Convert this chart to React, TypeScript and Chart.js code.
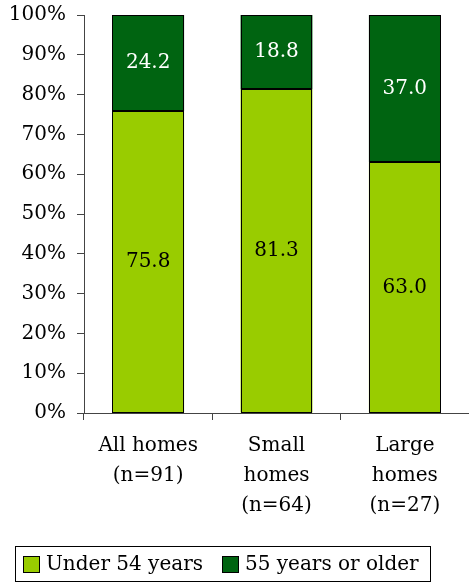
import React, { useEffect, useRef } from "react";
import { Chart, registerables } from "chart.js";

Chart.register(...registerables);

const categories: string[][] = [["All homes", "(n=91)"], ["Small", "homes", "(n=64)"], ["Large", "homes", "(n=27)"]];
const seriesNames = ["Under 54 years", "55 years or older"];
const under54 = [75.8, 81.3, 63.0];
const over55 = [24.2, 18.8, 37.0];
const yTicks = [0, 10, 20, 30, 40, 50, 60, 70, 80, 90, 100];

const LIGHT = "#99CC00";
const DARK = "#006411";
const FONT = "'DejaVu Serif', 'Liberation Serif', serif";

const dataLabels = {
  id: "dataLabels",
  afterDatasetsDraw(chart: any) {
    const ctx = chart.ctx;
    ctx.save();
    // crisp bar borders
    ctx.strokeStyle = "#000";
    ctx.lineWidth = 1;
    chart.data.datasets.forEach((_ds: any, i: number) => {
      const meta = chart.getDatasetMeta(i);
      meta.data.forEach((el: any) => {
        const l = Math.round(el.x - el.width / 2) + 0.5;
        const r = Math.round(el.x + el.width / 2) - 0.5;
        const t = Math.round(Math.min(el.y, el.base)) + 0.5;
        const b = Math.round(Math.max(el.y, el.base)) - 0.5;
        ctx.strokeRect(l, t, r - l, b - t);
      });
    });
    ctx.font = `20px ${FONT}`;
    ctx.textAlign = "center";
    ctx.textBaseline = "middle";
    chart.data.datasets.forEach((ds: any, i: number) => {
      const meta = chart.getDatasetMeta(i);
      meta.data.forEach((el: any, j: number) => {
        const v = ds.data[j];
        const y = (el.y + el.base) / 2;
        ctx.fillStyle = i === 0 ? "#000" : "#fff";
        ctx.fillText(v.toFixed(1), el.x, y);
      });
    });
    ctx.restore();
  },
};

const boxLegend = {
  id: "boxLegend",
  afterDraw(chart: any) {
    const ctx = chart.ctx;
    ctx.save();
    ctx.strokeStyle = "#000";
    ctx.lineWidth = 1;
    ctx.strokeRect(15.5, 546.5, 415, 35);
    ctx.font = `20px ${FONT}`;
    ctx.textBaseline = "middle";
    ctx.textAlign = "left";
    const cy = 565;
    const items = [
      { x: 23, color: LIGHT, text: seriesNames[0] },
      { x: 222, color: DARK, text: seriesNames[1] },
    ];
    items.forEach((it) => {
      ctx.fillStyle = it.color;
      ctx.fillRect(it.x + 0.5, cy - 8.5, 16, 16);
      ctx.strokeStyle = "#000";
      ctx.strokeRect(it.x + 0.5, cy - 8.5, 16, 16);
      ctx.fillStyle = "#000";
      ctx.fillText(it.text, it.x + 23, cy);
    });
    ctx.restore();
  },
};

export default function App() {
  const ref = useRef<HTMLCanvasElement>(null);
  useEffect(() => {
    document.body.style.margin = "0";
    const chart = new Chart(ref.current!, {
      type: "bar",
      data: {
        labels: categories,
        datasets: [
          {
            label: seriesNames[0],
            data: under54,
            backgroundColor: LIGHT,
            borderWidth: 0,
            categoryPercentage: 1,
            barPercentage: 0.56,
          },
          {
            label: seriesNames[1],
            data: over55,
            backgroundColor: DARK,
            borderWidth: 0,
            categoryPercentage: 1,
            barPercentage: 0.56,
          },
        ],
      },
      options: {
        animation: false,
        responsive: false,
        layout: { padding: { top: 15, right: 0, bottom: 51, left: 0 } },
        plugins: { legend: { display: false }, tooltip: { enabled: false } },
        scales: {
          x: {
            stacked: true,
            grid: { drawOnChartArea: false, tickLength: 7, color: "#444", offset: true },
            border: { color: "#444", width: 1 },
            ticks: { color: "#000", font: { family: FONT, size: 20, lineHeight: 1.5 }, padding: 11, maxRotation: 0, autoSkip: false },
            afterFit(scale: any) {
              scale.height = 120;
              scale.paddingLeft = 0;
              scale.paddingRight = 0;
            },
          },
          y: {
            stacked: true,
            min: 0,
            max: 100,
            afterBuildTicks(scale: any) {
              scale.ticks = yTicks.map((v) => ({ value: v }));
            },
            grid: { drawOnChartArea: false, tickLength: 7, color: "#444" },
            border: { color: "#444", width: 1 },
            ticks: {
              color: "#000",
              font: { family: FONT, size: 20 },
              padding: 11,
              callback: (v: any) => `${v}%`,
            },
            afterFit(scale: any) {
              scale.width = 84;
              scale.paddingTop = 0;
              scale.paddingBottom = 0;
            },
          },
        },
      },
      plugins: [dataLabels, boxLegend],
    });
    return () => chart.destroy();
  }, []);
  return <canvas ref={ref} width={469} height={584} style={{ display: "block" }} />;
}
